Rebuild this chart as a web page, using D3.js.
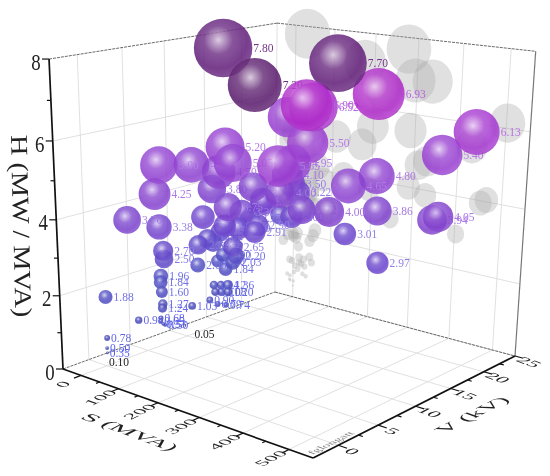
<!DOCTYPE html><html><head><meta charset="utf-8"><script src="https://cdn.jsdelivr.net/npm/d3@7"></script>
<style>html,body{margin:0;background:#fff}svg{display:block;filter:blur(0.45px)}text{font-family:"Liberation Serif",serif}</style></head><body>
<svg id="c" width="550" height="476"></svg>
<script>
const hValues=[7.80,7.20,7.70,6.93,6.90,6.52,5.40,5.50,6.13,5.40,4.80,4.65,4.00,3.86,4.05,3.94,3.01,2.97,5.00,4.75,5.20,5.05,4.50,3.80,4.25,3.70,3.38,3.15,3.75,3.90,5.55,4.95,4.10,3.50,3.22,4.00,3.40,3.72,3.00,2.60,2.91,2.75,2.90,2.90,2.55,2.45,2.60,2.60,2.65,2.20,2.03,1.90,3.00,3.30,3.30,2.70,2.50,2.00,1.70,1.84,1.96,1.84,1.60,1.27,1.24,1.88,1.03,0.90,1.14,1.10,1.12,1.08,1.36,1.20,0.79,0.74,0.98,0.68,0.65,0.53,0.50,0.78,0.50,0.35,0.10,0.05];
const sValues=[30,176,278,335,296,225,-13,199,502,429,330,310,289,329,467,454,248,403,4,-4,38,109,23,-32,2,-10,10,-18,78,39,289,174,63,7,11,129,42,194,88,-8,91,-13,61,47,-23,3,16,0,85,58,53,-15,32,42,10,11,15,10,-28,44,-1,7,14,16,28,0,31,13,-10,16,-3,22,44,50,26,35,5,-16,-8,-10,-7,3,2,0,2,8];
const vValues=[13.5,10.0,15.0,17.2,10.0,14.9,24.7,15.7,20.3,20.5,17.6,14.9,13.6,17.9,17.7,17.7,18.3,13.5,6.6,11.0,13.3,10.7,13.2,15.0,6.1,3.3,6.2,13.1,11.6,17.0,6.9,15.1,20.5,24.3,25,15.9,18.3,15.3,19.8,23.4,14.5,19.3,16.5,14.6,15.6,13.4,10.8,12.8,11.9,13.7,13.5,15.6,13.5,15.3,19.8,6.6,6.5,11.0,15.5,13.0,6.8,6.4,6.2,6.2,5.6,0.1,9.2,12.4,14.1,13.0,14.7,13.5,13.3,13.0,12.8,13.5,3.7,7.4,7.0,7.4,7.5,0,0,0.1,0,10.4];
const sTicks=[0,100,200,300,400,500], sMinor=[50,150,250,350,450];
const vTicks=[0,5,10,15,20,25], vMinor=[2.5,7.5,12.5,17.5,22.5];
const hTicks=[0,2,4,6,8], hMinor=[1,3,5,7];
const sDomain=[-50,550], vDomain=[-3,25], hDomain=[0,8];

const us=d3.scaleLinear(sDomain,[0,1]), uv=d3.scaleLinear(vDomain,[0,1]), uh=d3.scaleLinear(hDomain,[0,1]);
const al=-0.1433,be=0.1623,ga=-0.072,ax=[63,205.2,256.6,-17.5],ay=[369,23.4,-29.6,-314.2];
function depth(S,V,H){return 1+al*us(S)+be*uv(V)+ga*uh(H);}
function proj(S,V,H){const u=us(S),v=uv(V),w=uh(H),d=1+al*u+be*v+ga*w;
  return [(ax[0]+ax[1]*u+ax[2]*v+ax[3]*w)/d,(ay[0]+ay[1]*u+ay[2]*v+ay[3]*w)/d];}
const [sMin,sMax]=sDomain,[vMin,vMax]=vDomain,[hMin,hMax]=hDomain;
const svg=d3.select("#c"), defs=svg.append("defs");
const seg=(g,a,b,st)=>{const s=g.append("line").attr("x1",a[0]).attr("y1",a[1]).attr("x2",b[0]).attr("y2",b[1]);
  for(const k in st)s.attr(k,st[k]);return s;};

// grid
const grid=svg.append("g"), gs={stroke:"#dcdcdc","stroke-width":0.9};
sTicks.forEach(S=>{seg(grid,proj(S,vMin,0),proj(S,vMax,0),gs);seg(grid,proj(S,vMax,0),proj(S,vMax,hMax),gs);});
vTicks.forEach(V=>{seg(grid,proj(sMin,V,0),proj(sMax,V,0),gs);seg(grid,proj(sMin,V,0),proj(sMin,V,hMax),gs);});
hTicks.slice(1,-1).forEach(H=>{seg(grid,proj(sMin,vMin,H),proj(sMin,vMax,H),gs);seg(grid,proj(sMin,vMax,H),proj(sMax,vMax,H),gs);});

// box edges
const dash={stroke:"#444","stroke-width":0.8,"stroke-dasharray":"3,1"};
seg(grid,proj(sMin,vMax,0),proj(sMax,vMax,0),dash);
seg(grid,proj(sMin,vMin,0),proj(sMin,vMax,0),dash);
seg(grid,proj(sMin,vMin,hMax),proj(sMin,vMax,hMax),dash);
seg(grid,proj(sMin,vMax,hMax),proj(sMax,vMax,hMax),dash);
seg(grid,proj(sMax,vMax,0),proj(sMax,vMax,hMax),{stroke:"#777","stroke-width":1.2});

// shadows on the V wall
const data=hValues.map((H,i)=>({H,S:sValues[i],V:vValues[i],i}));
const shadows=svg.append("g");
shadows.selectAll("ellipse").data(data).join("ellipse")
 .attr("cx",d=>proj(d.S,vMax,d.H)[0]).attr("cy",d=>proj(d.S,vMax,d.H)[1])
 .attr("rx",d=>2.9*d.H).attr("ry",d=>3.2*d.H).attr("fill","#a8a8a8").attr("fill-opacity",0.36);

// axes
const axS={stroke:"#111","stroke-width":1.7};
seg(svg,proj(sMin,vMin,0),proj(sMin,vMin,hMax),axS);
seg(svg,proj(sMin,vMin,0),proj(sMax,vMin,0),axS);
seg(svg,proj(sMax,vMin,0),proj(sMax,vMax,0),axS);
const tk={stroke:"#111","stroke-width":1.2};
sTicks.forEach(S=>seg(svg,proj(S,vMin,0),proj(S,vMin-0.8,0),tk));
sMinor.forEach(S=>seg(svg,proj(S,vMin,0),proj(S,vMin-0.4,0),tk));
vTicks.forEach(V=>seg(svg,proj(sMax,V,0),proj(sMax+18,V,0),tk));
vMinor.forEach(V=>seg(svg,proj(sMax,V,0),proj(sMax+9,V,0),tk));
hTicks.forEach(H=>{const p=proj(sMin,vMin,H);seg(svg,p,[p[0]-7,p[1]],tk);});
hMinor.forEach(H=>{const p=proj(sMin,vMin,H);seg(svg,p,[p[0]-4,p[1]],tk);});

const sd=[0.94,0.34], vd=[0.89,-0.45];
function planeText(txt,x,y,ex,ey,kx,ky,size,fill){
 svg.append("text").text(txt).attr("text-anchor","middle").attr("dominant-baseline","central")
  .attr("font-size",size).attr("fill",fill||"#222")
  .attr("transform",`matrix(${ex[0]*kx},${ex[1]*kx},${ey[0]*ky},${ey[1]*ky},${x},${y})`);
}
const negV=[-vd[0],-vd[1]];
sTicks.forEach(S=>{const p=proj(S,vMin,0);planeText(S,p[0]-18,p[1]+9,vd,sd,1.1,0.8,18);});
vTicks.forEach(V=>{const p=proj(sMax,V,0);planeText(V,p[0]+14,p[1]+6,sd,negV,1.15,0.8,18);});
hTicks.forEach(H=>{const p=proj(sMin,vMin,H);planeText(H,p[0]-13,p[1]+3,[1,0],[0,1],0.82,1,23);});
planeText("S (MVA)",130,432,sd,negV,1.15,0.75,23);
planeText("V (kV)",472,415,vd,sd,1.15,0.75,23);
svg.append("text").text("H (MW / MVA)").attr("text-anchor","middle").attr("dominant-baseline","central")
 .attr("font-size",24).attr("fill","#222").attr("transform","matrix(0.03,1.18,-1,0.03,21,226)");
planeText("fglongatt",331,443,vd,sd,1.2,0.9,11,"#808080");

// spheres
const col=d3.scaleLinear([0,2,3,4,5,6,7,7.1,8],["#3a3eb0","#4f4cc2","#6a42cc","#8040cc","#9040d0","#a238d0","#b028c8","#561868","#662080"]);
const lab=d3.scaleLinear([0.2,2,3,4,5,6,7,7.1,8],["#5a60e8","#7474e4","#9080e4","#a878e4","#b47ee8","#b870e8","#b860e0","#6a2a80","#7a3a90"]);
const balls=svg.append("g");
data.slice().sort((a,b)=>depth(b.S,b.V,b.H)-depth(a.S,a.V,a.H)).forEach(d=>{
 const p=proj(d.S,d.V,d.H), r=3.75*d.H, c=col(d.H), id="g"+d.i, mix=t=>d3.interpolateRgb(c,"#fff")(t);
 const g=defs.append("radialGradient").attr("id",id).attr("cx",0.42).attr("cy",0.36).attr("r",0.68);
 [[0,mix(.74)],[.12,mix(.52)],[.36,mix(.12)],[.72,c],[.92,mix(.08)],[1,d3.rgb(c).darker(.3)]].forEach(s=>
   g.append("stop").attr("offset",s[0]).attr("stop-color",s[1]));
 balls.append("circle").attr("cx",p[0]).attr("cy",p[1]).attr("r",r).attr("fill",`url(#${id})`).attr("fill-opacity",0.86);
 balls.append("text").text(d.H.toFixed(2)).attr("x",p[0]+r+1).attr("y",p[1]+4).attr("font-size",11.5)
   .attr("fill",d.H<0.2?"#222":lab(d.H));
});
</script></body></html>
